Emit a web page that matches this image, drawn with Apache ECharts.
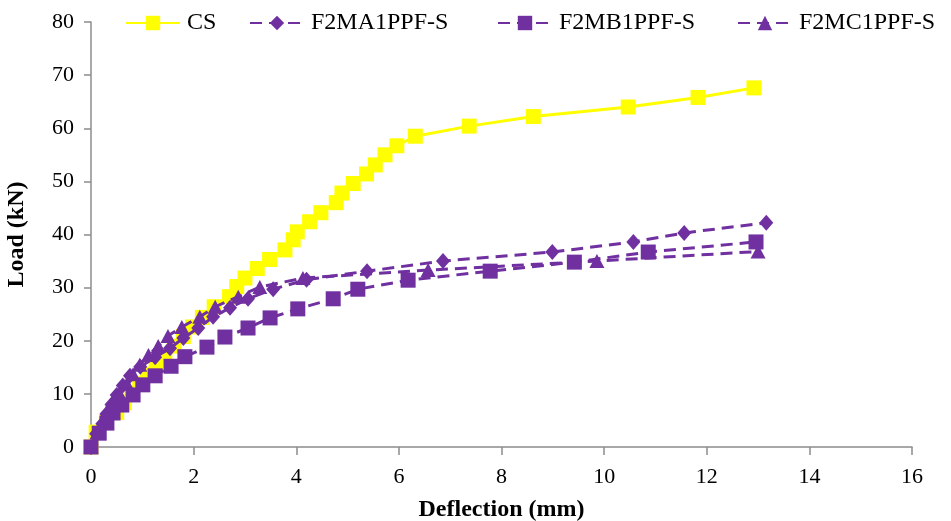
<!DOCTYPE html>
<html>
<head>
<meta charset="utf-8">
<script src="https://cdn.jsdelivr.net/npm/echarts@6/dist/echarts.min.js"></script>
<style>
  html, body { margin: 0; padding: 0; background: #fff; }
  #chart { width: 951px; height: 521px; }
</style>
</head>
<body>
<div id="chart"></div>
<script>
// series names
const seriesNames = ["CS", "F2MA1PPF-S", "F2MB1PPF-S", "F2MC1PPF-S"];

// [deflection (mm), load (kN)]
const csData = [
  [0, 0], [0.1, 2.8], [0.3, 4.6], [0.5, 6.5], [0.65, 8.3], [0.8, 10.1], [0.95, 11.9],
  [1.1, 13.7], [1.27, 15.5], [1.44, 17.3], [1.62, 19.0], [1.8, 20.8], [1.98, 22.6],
  [2.17, 24.4], [2.4, 26.4], [2.7, 28.3], [2.84, 30.2], [3.0, 31.8], [3.24, 33.6],
  [3.48, 35.3], [3.78, 37.1], [3.94, 39.0], [4.02, 40.5], [4.26, 42.4], [4.48, 44.1],
  [4.78, 46.0], [4.89, 47.8], [5.11, 49.6], [5.37, 51.4], [5.54, 53.1], [5.73, 55.0],
  [5.96, 56.7], [6.32, 58.5], [7.37, 60.4], [8.62, 62.2], [10.47, 64.0], [11.83, 65.8],
  [12.92, 67.6]
];
const maData = [
  [0, 0], [0.1, 2.5], [0.22, 4.4], [0.3, 6.2], [0.4, 8.0], [0.5, 9.8], [0.62, 11.6],
  [0.76, 13.4], [0.96, 15.1], [1.25, 16.9], [1.54, 18.6], [1.8, 20.5], [2.09, 22.4],
  [2.38, 24.5], [2.71, 26.2], [3.06, 27.9], [3.55, 29.7], [4.2, 31.5], [5.38, 33.1],
  [6.86, 35.0], [8.99, 36.7], [10.57, 38.6], [11.56, 40.3], [13.16, 42.2]
];
const mbData = [
  [0, 0], [0.16, 2.6], [0.31, 4.5], [0.43, 6.4], [0.6, 7.9], [0.82, 9.8], [1.01, 11.7],
  [1.25, 13.4], [1.56, 15.2], [1.83, 17.0], [2.26, 18.8], [2.61, 20.7], [3.06, 22.4],
  [3.49, 24.3], [4.03, 26.0], [4.72, 27.9], [5.2, 29.7], [6.18, 31.4], [7.78, 33.1],
  [9.42, 34.8], [10.86, 36.7], [12.96, 38.6]
];
const mcData = [
  [0, 0], [0.12, 2.8], [0.22, 4.6], [0.32, 6.5], [0.42, 8.3], [0.55, 10.1], [0.7, 11.9],
  [0.82, 13.7], [0.95, 15.5], [1.12, 17.3], [1.31, 19.0], [1.5, 20.9], [1.77, 22.6],
  [2.12, 24.5], [2.42, 26.4], [2.87, 28.3], [3.29, 30.1], [4.13, 31.8], [6.57, 33.3],
  [9.86, 35.0], [13.0, 36.8]
];

// axis ticks
const xTicks = { min: 0, max: 16, step: 2 };
const yTicks = { min: 0, max: 80, step: 10 };

const yellow = "#ffff00";
const purple = "#7030a0";
const axisGrey = "#8c8c8c";
const font = "'Liberation Serif', 'DejaVu Serif', serif";

const chart = echarts.init(document.getElementById("chart"), null, { renderer: "canvas" });

const legendBase = {
  top: 6,
  itemWidth: 54,
  itemHeight: 18,
  textStyle: { fontFamily: font, fontSize: 24, color: "#000", padding: [0, 0, 0, 2] },
};

const dashed = { type: [12, 7], width: 3, color: purple };

const option = {
  animation: false,
  backgroundColor: "#fff",
  textStyle: { fontFamily: font },
  legend: [
    Object.assign({}, legendBase, { left: 120, data: [seriesNames[0]] }),
    Object.assign({}, legendBase, { left: 244, data: [seriesNames[1]] }),
    Object.assign({}, legendBase, { left: 492, data: [seriesNames[2]] }),
    Object.assign({}, legendBase, { left: 732, data: [seriesNames[3]] }),
  ],
  // fixed plot box, don't let v6 shrink it to fit the axis names
  grid: { left: 91, right: 39, top: 22, bottom: 74, containLabel: false, outerBoundsMode: "none" },
  xAxis: {
    type: "value",
    min: xTicks.min,
    max: xTicks.max,
    interval: xTicks.step,
    name: "Deflection (mm)",
    nameLocation: "middle",
    nameGap: 51,
    nameTextStyle: { fontFamily: font, fontSize: 24, fontWeight: "bold", color: "#000" },
    axisLine: { show: true, lineStyle: { color: axisGrey, width: 1.5 } },
    axisTick: { show: true, length: 8, lineStyle: { color: axisGrey, width: 1.5 } },
    axisLabel: { fontFamily: font, fontSize: 22, color: "#000", margin: 19 },
    splitLine: { show: false },
  },
  yAxis: {
    type: "value",
    min: yTicks.min,
    max: yTicks.max,
    interval: yTicks.step,
    name: "Load (kN)",
    nameLocation: "middle",
    nameGap: 62,
    nameTextStyle: { fontFamily: font, fontSize: 24, fontWeight: "bold", color: "#000" },
    axisLine: { show: true, lineStyle: { color: axisGrey, width: 1.5 } },
    axisTick: { show: true, length: 7, lineStyle: { color: axisGrey, width: 1.5 } },
    axisLabel: { fontFamily: font, fontSize: 22, color: "#000", margin: 17 },
    splitLine: { show: false },
  },
  series: [
    {
      name: seriesNames[0],
      type: "line",
      data: csData,
      symbol: "rect",
      symbolSize: 15,
      lineStyle: { color: yellow, width: 3 },
      itemStyle: { color: yellow },
      z: 2,
    },
    {
      name: seriesNames[1],
      type: "line",
      data: maData,
      symbol: "diamond",
      symbolSize: [14, 16],
      lineStyle: dashed,
      itemStyle: { color: purple },
      z: 3,
    },
    {
      name: seriesNames[2],
      type: "line",
      data: mbData,
      symbol: "rect",
      symbolSize: 15,
      lineStyle: dashed,
      itemStyle: { color: purple },
      z: 3,
    },
    {
      name: seriesNames[3],
      type: "line",
      data: mcData,
      symbol: "triangle",
      symbolSize: [15, 14],
      lineStyle: dashed,
      itemStyle: { color: purple },
      z: 3,
    },
  ],
};

chart.setOption(option);
</script>
</body>
</html>
